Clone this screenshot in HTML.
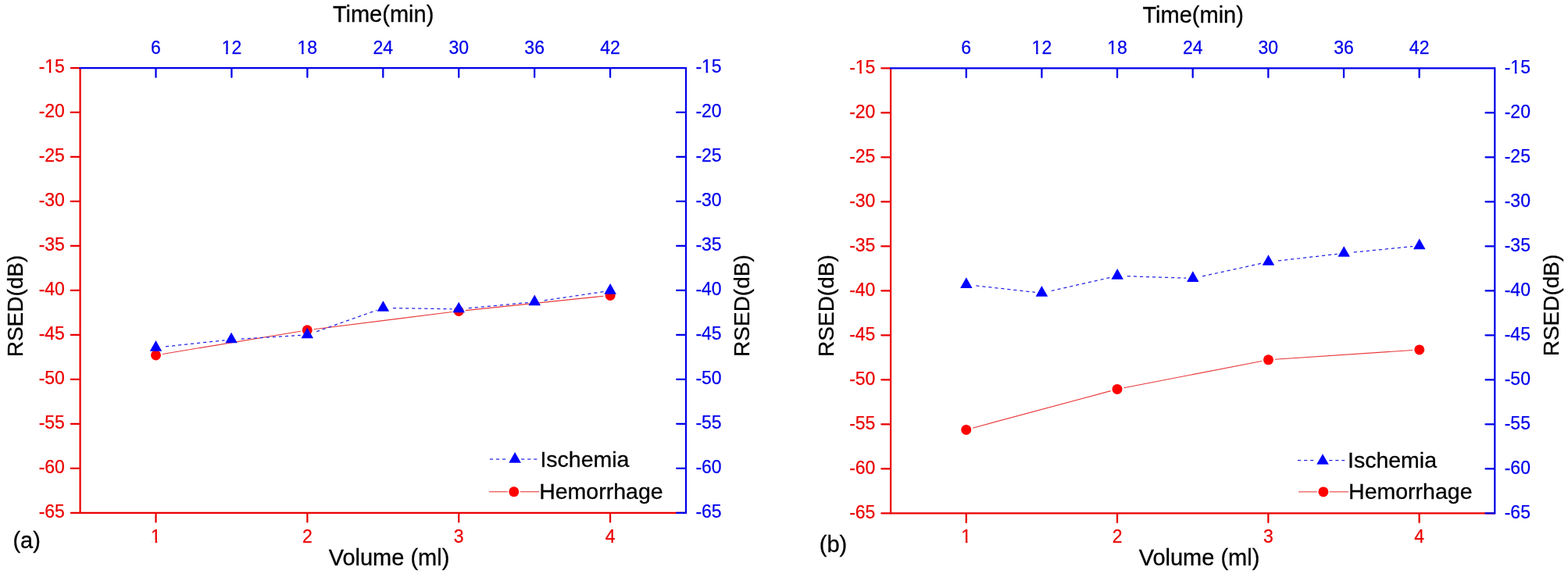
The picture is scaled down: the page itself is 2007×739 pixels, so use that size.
<!DOCTYPE html>
<html lang="en"><head><meta charset="utf-8"><title>RSED vs Volume and Time</title>
<style>
html,body{margin:0;padding:0;background:#ffffff;}
body{width:2007px;height:739px;overflow:hidden;}
svg{display:block;}
text{font-family:"Liberation Sans", Arial, Helvetica, sans-serif;}
</style></head><body>
<svg width="2007" height="739" viewBox="0 0 2007 739" font-family='"Liberation Sans", Arial, Helvetica, sans-serif'>
<rect width="2007" height="739" fill="#ffffff"/>
<g><line x1="207.98" y1="453.49" x2="384.82" y2="424.21" stroke="#e83838" stroke-width="1.1"/>
<line x1="401.83" y1="421.73" x2="578.67" y2="399.57" stroke="#e83838" stroke-width="1.1"/>
<line x1="595.75" y1="397.61" x2="772.55" y2="379.29" stroke="#e83838" stroke-width="1.1"/>
<line x1="212.03" y1="443.86" x2="287.55" y2="435.81" stroke="#2424e6" stroke-width="1.25" stroke-dasharray="4.15 3.9"/>
<line x1="308.68" y1="434.12" x2="384.72" y2="429.43" stroke="#2424e6" stroke-width="1.25" stroke-dasharray="4.15 3.9"/>
<line x1="405.17" y1="424.68" x2="482.30" y2="397.28" stroke="#2424e6" stroke-width="1.25" stroke-dasharray="4.15 3.9"/>
<line x1="503.00" y1="394.60" x2="578.60" y2="395.77" stroke="#2424e6" stroke-width="1.25" stroke-dasharray="4.15 3.9"/>
<line x1="599.74" y1="394.71" x2="675.64" y2="387.51" stroke="#2424e6" stroke-width="1.25" stroke-dasharray="4.15 3.9"/>
<line x1="696.66" y1="384.85" x2="772.59" y2="373.56" stroke="#2424e6" stroke-width="1.25" stroke-dasharray="4.15 3.9"/>
<circle cx="199.5" cy="454.9" r="6.5" fill="#ff0000"/>
<circle cx="393.3" cy="422.8" r="6.5" fill="#ff0000"/>
<circle cx="587.2" cy="398.5" r="6.5" fill="#ff0000"/>
<circle cx="781.1" cy="378.4" r="6.5" fill="#ff0000"/>
<path d="M191.75,449.65 L207.25,449.65 L199.50,435.95 Z" fill="#0000ff"/>
<path d="M288.35,439.35 L303.85,439.35 L296.10,425.65 Z" fill="#0000ff"/>
<path d="M385.55,433.35 L401.05,433.35 L393.30,419.65 Z" fill="#0000ff"/>
<path d="M482.65,398.85 L498.15,398.85 L490.40,385.15 Z" fill="#0000ff"/>
<path d="M579.45,400.35 L594.95,400.35 L587.20,386.65 Z" fill="#0000ff"/>
<path d="M676.45,391.15 L691.95,391.15 L684.20,377.45 Z" fill="#0000ff"/>
<path d="M773.35,376.75 L788.85,376.75 L781.10,363.05 Z" fill="#0000ff"/>
<g stroke="#ea0000" stroke-width="2.25" fill="none" stroke-linecap="round">
<line x1="102.6" y1="656.8" x2="878.0" y2="656.8" stroke-linecap="butt"/>
<line x1="102.6" y1="87.0" x2="102.6" y2="657.925" stroke-linecap="butt"/>
<line x1="90.8" y1="87.00" x2="101.6" y2="87.00"/>
<line x1="90.8" y1="143.98" x2="101.6" y2="143.98"/>
<line x1="90.8" y1="200.96" x2="101.6" y2="200.96"/>
<line x1="90.8" y1="257.94" x2="101.6" y2="257.94"/>
<line x1="90.8" y1="314.92" x2="101.6" y2="314.92"/>
<line x1="90.8" y1="371.90" x2="101.6" y2="371.90"/>
<line x1="90.8" y1="428.88" x2="101.6" y2="428.88"/>
<line x1="90.8" y1="485.86" x2="101.6" y2="485.86"/>
<line x1="90.8" y1="542.84" x2="101.6" y2="542.84"/>
<line x1="90.8" y1="599.82" x2="101.6" y2="599.82"/>
<line x1="90.8" y1="656.80" x2="101.6" y2="656.80"/>
<line x1="199.52" y1="657.8" x2="199.52" y2="668.5999999999999"/>
<line x1="393.38" y1="657.8" x2="393.38" y2="668.5999999999999"/>
<line x1="587.23" y1="657.8" x2="587.23" y2="668.5999999999999"/>
<line x1="781.08" y1="657.8" x2="781.08" y2="668.5999999999999"/>
</g>
<g stroke="#0000ea" stroke-width="2.25" fill="none" stroke-linecap="round">
<line x1="101.475" y1="87.0" x2="878.0" y2="87.0" stroke-linecap="butt"/>
<line x1="878.0" y1="85.875" x2="878.0" y2="657.925" stroke-linecap="butt"/>
<line x1="866.2" y1="143.98" x2="877.0" y2="143.98"/>
<line x1="866.2" y1="200.96" x2="877.0" y2="200.96"/>
<line x1="866.2" y1="257.94" x2="877.0" y2="257.94"/>
<line x1="866.2" y1="314.92" x2="877.0" y2="314.92"/>
<line x1="866.2" y1="371.90" x2="877.0" y2="371.90"/>
<line x1="866.2" y1="428.88" x2="877.0" y2="428.88"/>
<line x1="866.2" y1="485.86" x2="877.0" y2="485.86"/>
<line x1="866.2" y1="542.84" x2="877.0" y2="542.84"/>
<line x1="866.2" y1="599.82" x2="877.0" y2="599.82"/>
<line x1="866.2" y1="656.80" x2="877.0" y2="656.80"/>
<line x1="199.52" y1="88.0" x2="199.52" y2="98.8"/>
<line x1="296.45" y1="88.0" x2="296.45" y2="98.8"/>
<line x1="393.38" y1="88.0" x2="393.38" y2="98.8"/>
<line x1="490.30" y1="88.0" x2="490.30" y2="98.8"/>
<line x1="587.23" y1="88.0" x2="587.23" y2="98.8"/>
<line x1="684.15" y1="88.0" x2="684.15" y2="98.8"/>
<line x1="781.08" y1="88.0" x2="781.08" y2="98.8"/>
</g>
<g font-size="23" fill="#ea0000" stroke="#ea0000" stroke-width="0.25">
<text x="82.90" y="93.40" text-anchor="end">-15</text><rect x="58.47" y="90.40" width="4.33" height="5.2" fill="#ffffff" stroke="none"/><rect x="65.43" y="90.40" width="4.27" height="5.2" fill="#ffffff" stroke="none"/>
<text x="82.90" y="150.38" text-anchor="end">-20</text>
<text x="82.90" y="207.36" text-anchor="end">-25</text>
<text x="82.90" y="264.34" text-anchor="end">-30</text>
<text x="82.90" y="321.32" text-anchor="end">-35</text>
<text x="82.90" y="378.30" text-anchor="end">-40</text>
<text x="82.90" y="435.28" text-anchor="end">-45</text>
<text x="82.90" y="492.26" text-anchor="end">-50</text>
<text x="82.90" y="549.24" text-anchor="end">-55</text>
<text x="82.90" y="606.22" text-anchor="end">-60</text>
<text x="82.90" y="663.20" text-anchor="end">-65</text>
<text x="199.52" y="694.80" text-anchor="middle">1</text><rect x="194.28" y="691.80" width="4.33" height="5.2" fill="#ffffff" stroke="none"/><rect x="201.25" y="691.80" width="4.27" height="5.2" fill="#ffffff" stroke="none"/>
<text x="393.38" y="694.80" text-anchor="middle">2</text>
<text x="587.23" y="694.80" text-anchor="middle">3</text>
<text x="781.08" y="694.80" text-anchor="middle">4</text>
</g>
<g font-size="23" fill="#0000ea" stroke="#0000ea" stroke-width="0.25">
<text x="890.40" y="93.20" text-anchor="start">-15</text><rect x="899.21" y="90.20" width="4.33" height="5.2" fill="#ffffff" stroke="none"/><rect x="906.18" y="90.20" width="4.27" height="5.2" fill="#ffffff" stroke="none"/>
<text x="890.40" y="150.18" text-anchor="start">-20</text>
<text x="890.40" y="207.16" text-anchor="start">-25</text>
<text x="890.40" y="264.14" text-anchor="start">-30</text>
<text x="890.40" y="321.12" text-anchor="start">-35</text>
<text x="890.40" y="378.10" text-anchor="start">-40</text>
<text x="890.40" y="435.08" text-anchor="start">-45</text>
<text x="890.40" y="492.06" text-anchor="start">-50</text>
<text x="890.40" y="549.04" text-anchor="start">-55</text>
<text x="890.40" y="606.02" text-anchor="start">-60</text>
<text x="890.40" y="663.00" text-anchor="start">-65</text>
<text x="199.52" y="68.70" text-anchor="middle">6</text>
<text x="296.45" y="68.70" text-anchor="middle">12</text><rect x="284.81" y="65.70" width="4.33" height="5.2" fill="#ffffff" stroke="none"/><rect x="291.77" y="65.70" width="4.27" height="5.2" fill="#ffffff" stroke="none"/>
<text x="393.38" y="68.70" text-anchor="middle">18</text><rect x="381.74" y="65.70" width="4.33" height="5.2" fill="#ffffff" stroke="none"/><rect x="388.70" y="65.70" width="4.27" height="5.2" fill="#ffffff" stroke="none"/>
<text x="490.30" y="68.70" text-anchor="middle">24</text>
<text x="587.23" y="68.70" text-anchor="middle">30</text>
<text x="684.15" y="68.70" text-anchor="middle">36</text>
<text x="781.08" y="68.70" text-anchor="middle">42</text>
</g>
<g fill="#000000" stroke="#000000" stroke-width="0.3">
<text x="490.6" y="28.3" font-size="29" text-anchor="middle">Time(min)</text>
<text x="498.0" y="723.7" font-size="29" text-anchor="middle">Volume (ml)</text>
<text transform="translate(29.0,392.0) rotate(-90)" font-size="28" text-anchor="middle">RSED(dB)</text>
<text transform="translate(958.8,391.6) rotate(-90)" font-size="28" text-anchor="middle">RSED(dB)</text>
<text x="16.4" y="701.5" font-size="29">(a)</text>
<line x1="626.9" y1="588.0" x2="687.3" y2="588.0" stroke="#2424e6" stroke-width="1.25" stroke-dasharray="4.15 3.9"/>
<rect x="647.6" y="586.0" width="18.5" height="4" fill="#ffffff" stroke="none"/>
<path d="M651.35,592.65 L666.85,592.65 L659.10,578.95 Z" fill="#0000ff" stroke="none"/>
<text x="691.4" y="597.7" font-size="28.5">Ischemia</text>
<line x1="625.9" y1="629.8" x2="649.8" y2="629.8" stroke="#e83838" stroke-width="1.1"/>
<line x1="665.8" y1="629.8" x2="690.3" y2="629.8" stroke="#e83838" stroke-width="1.1"/>
<circle cx="657.8" cy="629.8" r="6.5" fill="#ff0000" stroke="none"/>
<text x="690.2" y="639.3" font-size="28.5">Hemorrhage</text>
</g></g>
<g><line x1="1245.00" y1="548.17" x2="1421.70" y2="500.63" stroke="#e83838" stroke-width="1.1"/>
<line x1="1438.44" y1="496.76" x2="1615.06" y2="462.44" stroke="#e83838" stroke-width="1.1"/>
<line x1="1632.08" y1="460.23" x2="1808.22" y2="448.47" stroke="#e83838" stroke-width="1.1"/>
<line x1="1249.32" y1="365.90" x2="1324.85" y2="374.34" stroke="#2424e6" stroke-width="1.25" stroke-dasharray="4.15 3.9"/>
<line x1="1345.69" y1="372.51" x2="1421.81" y2="355.21" stroke="#2424e6" stroke-width="1.25" stroke-dasharray="4.15 3.9"/>
<line x1="1442.79" y1="353.72" x2="1518.20" y2="356.22" stroke="#2424e6" stroke-width="1.25" stroke-dasharray="4.15 3.9"/>
<line x1="1539.11" y1="353.81" x2="1615.10" y2="337.23" stroke="#2424e6" stroke-width="1.25" stroke-dasharray="4.15 3.9"/>
<line x1="1636.02" y1="333.98" x2="1711.66" y2="325.37" stroke="#2424e6" stroke-width="1.25" stroke-dasharray="4.15 3.9"/>
<line x1="1732.74" y1="323.14" x2="1808.24" y2="315.56" stroke="#2424e6" stroke-width="1.25" stroke-dasharray="4.15 3.9"/>
<circle cx="1236.7" cy="550.4" r="6.5" fill="#ff0000"/>
<circle cx="1430.0" cy="498.4" r="6.5" fill="#ff0000"/>
<circle cx="1623.5" cy="460.8" r="6.5" fill="#ff0000"/>
<circle cx="1816.8" cy="447.9" r="6.5" fill="#ff0000"/>
<path d="M1229.05,368.95 L1244.55,368.95 L1236.80,355.25 Z" fill="#0000ff"/>
<path d="M1325.65,379.75 L1341.15,379.75 L1333.40,366.05 Z" fill="#0000ff"/>
<path d="M1422.45,357.75 L1437.95,357.75 L1430.20,344.05 Z" fill="#0000ff"/>
<path d="M1519.05,360.95 L1534.55,360.95 L1526.80,347.25 Z" fill="#0000ff"/>
<path d="M1615.75,339.85 L1631.25,339.85 L1623.50,326.15 Z" fill="#0000ff"/>
<path d="M1712.45,328.85 L1727.95,328.85 L1720.20,315.15 Z" fill="#0000ff"/>
<path d="M1809.05,319.15 L1824.55,319.15 L1816.80,305.45 Z" fill="#0000ff"/>
<g stroke="#ea0000" stroke-width="2.25" fill="none" stroke-linecap="round">
<line x1="1140.1" y1="657.3" x2="1913.3" y2="657.3" stroke-linecap="butt"/>
<line x1="1140.1" y1="87.3" x2="1140.1" y2="658.425" stroke-linecap="butt"/>
<line x1="1128.3" y1="87.30" x2="1139.1" y2="87.30"/>
<line x1="1128.3" y1="144.30" x2="1139.1" y2="144.30"/>
<line x1="1128.3" y1="201.30" x2="1139.1" y2="201.30"/>
<line x1="1128.3" y1="258.30" x2="1139.1" y2="258.30"/>
<line x1="1128.3" y1="315.30" x2="1139.1" y2="315.30"/>
<line x1="1128.3" y1="372.30" x2="1139.1" y2="372.30"/>
<line x1="1128.3" y1="429.30" x2="1139.1" y2="429.30"/>
<line x1="1128.3" y1="486.30" x2="1139.1" y2="486.30"/>
<line x1="1128.3" y1="543.30" x2="1139.1" y2="543.30"/>
<line x1="1128.3" y1="600.30" x2="1139.1" y2="600.30"/>
<line x1="1128.3" y1="657.30" x2="1139.1" y2="657.30"/>
<line x1="1236.75" y1="658.3" x2="1236.75" y2="669.0999999999999"/>
<line x1="1430.05" y1="658.3" x2="1430.05" y2="669.0999999999999"/>
<line x1="1623.35" y1="658.3" x2="1623.35" y2="669.0999999999999"/>
<line x1="1816.65" y1="658.3" x2="1816.65" y2="669.0999999999999"/>
</g>
<g stroke="#0000ea" stroke-width="2.25" fill="none" stroke-linecap="round">
<line x1="1138.975" y1="87.3" x2="1913.3" y2="87.3" stroke-linecap="butt"/>
<line x1="1913.3" y1="86.175" x2="1913.3" y2="658.425" stroke-linecap="butt"/>
<line x1="1901.5" y1="144.30" x2="1912.3" y2="144.30"/>
<line x1="1901.5" y1="201.30" x2="1912.3" y2="201.30"/>
<line x1="1901.5" y1="258.30" x2="1912.3" y2="258.30"/>
<line x1="1901.5" y1="315.30" x2="1912.3" y2="315.30"/>
<line x1="1901.5" y1="372.30" x2="1912.3" y2="372.30"/>
<line x1="1901.5" y1="429.30" x2="1912.3" y2="429.30"/>
<line x1="1901.5" y1="486.30" x2="1912.3" y2="486.30"/>
<line x1="1901.5" y1="543.30" x2="1912.3" y2="543.30"/>
<line x1="1901.5" y1="600.30" x2="1912.3" y2="600.30"/>
<line x1="1901.5" y1="657.30" x2="1912.3" y2="657.30"/>
<line x1="1236.75" y1="88.3" x2="1236.75" y2="99.1"/>
<line x1="1333.40" y1="88.3" x2="1333.40" y2="99.1"/>
<line x1="1430.05" y1="88.3" x2="1430.05" y2="99.1"/>
<line x1="1526.70" y1="88.3" x2="1526.70" y2="99.1"/>
<line x1="1623.35" y1="88.3" x2="1623.35" y2="99.1"/>
<line x1="1720.00" y1="88.3" x2="1720.00" y2="99.1"/>
<line x1="1816.65" y1="88.3" x2="1816.65" y2="99.1"/>
</g>
<g font-size="23" fill="#ea0000" stroke="#ea0000" stroke-width="0.25">
<text x="1120.40" y="93.70" text-anchor="end">-15</text><rect x="1095.97" y="90.70" width="4.33" height="5.2" fill="#ffffff" stroke="none"/><rect x="1102.93" y="90.70" width="4.27" height="5.2" fill="#ffffff" stroke="none"/>
<text x="1120.40" y="150.70" text-anchor="end">-20</text>
<text x="1120.40" y="207.70" text-anchor="end">-25</text>
<text x="1120.40" y="264.70" text-anchor="end">-30</text>
<text x="1120.40" y="321.70" text-anchor="end">-35</text>
<text x="1120.40" y="378.70" text-anchor="end">-40</text>
<text x="1120.40" y="435.70" text-anchor="end">-45</text>
<text x="1120.40" y="492.70" text-anchor="end">-50</text>
<text x="1120.40" y="549.70" text-anchor="end">-55</text>
<text x="1120.40" y="606.70" text-anchor="end">-60</text>
<text x="1120.40" y="663.70" text-anchor="end">-65</text>
<text x="1236.75" y="695.30" text-anchor="middle">1</text><rect x="1231.51" y="692.30" width="4.33" height="5.2" fill="#ffffff" stroke="none"/><rect x="1238.47" y="692.30" width="4.27" height="5.2" fill="#ffffff" stroke="none"/>
<text x="1430.05" y="695.30" text-anchor="middle">2</text>
<text x="1623.35" y="695.30" text-anchor="middle">3</text>
<text x="1816.65" y="695.30" text-anchor="middle">4</text>
</g>
<g font-size="23" fill="#0000ea" stroke="#0000ea" stroke-width="0.25">
<text x="1925.70" y="93.50" text-anchor="start">-15</text><rect x="1934.51" y="90.50" width="4.33" height="5.2" fill="#ffffff" stroke="none"/><rect x="1941.48" y="90.50" width="4.27" height="5.2" fill="#ffffff" stroke="none"/>
<text x="1925.70" y="150.50" text-anchor="start">-20</text>
<text x="1925.70" y="207.50" text-anchor="start">-25</text>
<text x="1925.70" y="264.50" text-anchor="start">-30</text>
<text x="1925.70" y="321.50" text-anchor="start">-35</text>
<text x="1925.70" y="378.50" text-anchor="start">-40</text>
<text x="1925.70" y="435.50" text-anchor="start">-45</text>
<text x="1925.70" y="492.50" text-anchor="start">-50</text>
<text x="1925.70" y="549.50" text-anchor="start">-55</text>
<text x="1925.70" y="606.50" text-anchor="start">-60</text>
<text x="1925.70" y="663.50" text-anchor="start">-65</text>
<text x="1236.75" y="69.00" text-anchor="middle">6</text>
<text x="1333.40" y="69.00" text-anchor="middle">12</text><rect x="1321.76" y="66.00" width="4.33" height="5.2" fill="#ffffff" stroke="none"/><rect x="1328.72" y="66.00" width="4.27" height="5.2" fill="#ffffff" stroke="none"/>
<text x="1430.05" y="69.00" text-anchor="middle">18</text><rect x="1418.41" y="66.00" width="4.33" height="5.2" fill="#ffffff" stroke="none"/><rect x="1425.37" y="66.00" width="4.27" height="5.2" fill="#ffffff" stroke="none"/>
<text x="1526.70" y="69.00" text-anchor="middle">24</text>
<text x="1623.35" y="69.00" text-anchor="middle">30</text>
<text x="1720.00" y="69.00" text-anchor="middle">36</text>
<text x="1816.65" y="69.00" text-anchor="middle">42</text>
</g>
<g fill="#000000" stroke="#000000" stroke-width="0.3">
<text x="1527.2" y="28.9" font-size="29" text-anchor="middle">Time(min)</text>
<text x="1535.0" y="724.0" font-size="29" text-anchor="middle">Volume (ml)</text>
<text transform="translate(1066.5,391.6) rotate(-90)" font-size="28" text-anchor="middle">RSED(dB)</text>
<text transform="translate(1994.6,391.0) rotate(-90)" font-size="28" text-anchor="middle">RSED(dB)</text>
<text x="1048.8" y="706.8" font-size="29">(b)</text>
<line x1="1661.0" y1="589.6" x2="1721.2" y2="589.6" stroke="#2424e6" stroke-width="1.25" stroke-dasharray="4.15 3.9"/>
<rect x="1681.5" y="587.6" width="18.5" height="4" fill="#ffffff" stroke="none"/>
<path d="M1685.25,594.85 L1700.75,594.85 L1693.00,581.15 Z" fill="#0000ff" stroke="none"/>
<text x="1725.0" y="599.4" font-size="28.5">Ischemia</text>
<line x1="1662.1" y1="629.9" x2="1685.9" y2="629.9" stroke="#e83838" stroke-width="1.1"/>
<line x1="1701.9" y1="629.9" x2="1726.0" y2="629.9" stroke="#e83838" stroke-width="1.1"/>
<circle cx="1693.9" cy="629.9" r="6.5" fill="#ff0000" stroke="none"/>
<text x="1726.1" y="639.4" font-size="28.5">Hemorrhage</text>
</g></g>
</svg>
</body></html>
